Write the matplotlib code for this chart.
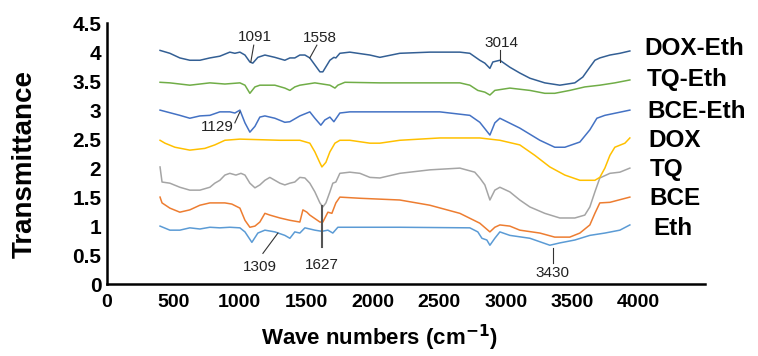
import matplotlib.pyplot as plt

plt.rcParams['font.family'] = ['Liberation Sans', 'DejaVu Sans']

# FTIR traces (wave number, transmittance)
eth_x = [400, 474, 549, 624, 700, 775, 850, 925, 1001, 1039, 1091, 1136, 1189, 1264, 1339, 1377, 1414, 1452,
         1490, 1565, 1618, 1663, 1700, 1738, 1828, 2204, 2731, 2791, 2822, 2859, 2882, 2919, 2957, 3032,
         3183, 3333, 3408, 3521, 3634, 3747, 3860, 3935]
eth_y = [1.00, 0.93, 0.93, 0.97, 0.95, 0.98, 0.97, 0.98, 0.97, 0.90, 0.72, 0.88, 0.93, 0.90, 0.84, 0.79, 0.90, 0.88,
         0.97, 0.93, 0.91, 0.93, 0.88, 0.98, 0.98, 0.98, 0.97, 0.90, 0.79, 0.76, 0.67, 0.79, 0.90, 0.84,
         0.79, 0.67, 0.71, 0.76, 0.84, 0.88, 0.93, 1.02]

bce_x = [400, 415, 474, 549, 624, 700, 775, 888, 940, 1001, 1039, 1076, 1114, 1151, 1189, 1226, 1302, 1377,
         1452, 1475, 1505, 1527, 1603, 1625, 1663, 1693, 1723, 1753, 1904, 2204, 2430, 2656, 2806, 2882,
         2919, 2957, 3032, 3107, 3258, 3370, 3483, 3559, 3634, 3672, 3709, 3785, 3935]
bce_y = [1.50, 1.40, 1.31, 1.24, 1.28, 1.36, 1.40, 1.40, 1.38, 1.31, 1.10, 0.98, 1.00, 1.07, 1.22, 1.19, 1.14, 1.10,
         1.07, 1.28, 1.24, 1.19, 1.07, 1.07, 1.24, 1.22, 1.40, 1.50, 1.48, 1.45, 1.36, 1.22, 1.05, 0.90,
         0.98, 1.02, 1.00, 0.93, 0.88, 0.81, 0.81, 0.88, 1.02, 1.22, 1.40, 1.41, 1.50]

tq_x = [400, 415, 474, 549, 624, 700, 775, 812, 850, 888, 925, 971, 1009, 1039, 1076, 1114, 1151, 1189, 1226,
        1264, 1302, 1339, 1377, 1414, 1452, 1490, 1527, 1565, 1603, 1625, 1648, 1678, 1700, 1723, 1753,
        1828, 1904, 1979, 2054, 2204, 2430, 2656, 2768, 2806, 2844, 2882, 2919, 2957, 3032, 3107, 3183,
        3295, 3408, 3521, 3596, 3634, 3672, 3709, 3785, 3860, 3935]
tq_y = [2.02, 1.76, 1.74, 1.67, 1.62, 1.62, 1.67, 1.74, 1.79, 1.88, 1.91, 1.88, 1.91, 1.88, 1.74, 1.66, 1.71, 1.79, 1.84,
        1.79, 1.74, 1.71, 1.74, 1.76, 1.84, 1.83, 1.74, 1.59, 1.40, 1.33, 1.40, 1.59, 1.74, 1.76, 1.91,
        1.93, 1.91, 1.84, 1.83, 1.91, 1.97, 2.00, 1.93, 1.83, 1.71, 1.45, 1.62, 1.67, 1.59, 1.45, 1.33,
        1.22, 1.14, 1.14, 1.19, 1.33, 1.59, 1.83, 1.91, 1.93, 2.00]

dox_x = [400, 437, 512, 624, 737, 812, 888, 1001, 1302, 1452, 1527, 1565, 1603, 1618, 1648, 1678, 1716, 1753,
         1828, 1979, 2054, 2204, 2505, 2806, 2957, 3107, 3220, 3333, 3446, 3559, 3672, 3709, 3747, 3785,
         3822, 3898, 3935]
dox_y = [2.48, 2.43, 2.36, 2.31, 2.34, 2.40, 2.48, 2.50, 2.48, 2.48, 2.43, 2.28, 2.09, 2.02, 2.10, 2.28, 2.43, 2.48,
         2.48, 2.43, 2.43, 2.48, 2.52, 2.52, 2.48, 2.40, 2.22, 2.02, 1.88, 1.79, 1.79, 1.84, 2.00, 2.22,
         2.36, 2.43, 2.52]

bce_eth_x = [400, 549, 624, 700, 775, 850, 925, 963, 1001, 1039, 1076, 1114, 1151, 1189, 1264, 1339, 1377,
             1452, 1527, 1565, 1610, 1640, 1678, 1708, 1753, 1828, 2505, 2731, 2806, 2882, 2919, 2957, 3107,
             3258, 3370, 3446, 3559, 3634, 3687, 3747, 3935]
bce_eth_y = [3.00, 2.91, 2.86, 2.90, 2.91, 2.97, 2.97, 2.95, 3.00, 2.78, 2.62, 2.72, 2.88, 2.90, 2.86, 2.79, 2.80,
             2.90, 2.97, 2.86, 2.74, 2.83, 2.88, 2.80, 2.95, 2.97, 2.97, 2.91, 2.79, 2.57, 2.78, 2.86, 2.69,
             2.48, 2.36, 2.36, 2.45, 2.66, 2.86, 2.91, 3.00]

tq_eth_x = [400, 474, 624, 775, 888, 1001, 1039, 1076, 1114, 1151, 1264, 1339, 1377, 1414, 1452, 1565, 1678,
            1716, 1738, 1791, 2054, 2656, 2731, 2791, 2844, 2882, 2919, 3032, 3183, 3295, 3370, 3483, 3596,
            3709, 3822, 3935]
tq_eth_y = [3.48, 3.47, 3.43, 3.47, 3.45, 3.47, 3.43, 3.29, 3.40, 3.43, 3.43, 3.38, 3.34, 3.40, 3.43, 3.47, 3.43,
            3.38, 3.43, 3.48, 3.47, 3.47, 3.43, 3.34, 3.31, 3.26, 3.34, 3.38, 3.34, 3.29, 3.29, 3.34, 3.40,
            3.43, 3.47, 3.52]

dox_eth_x = [400, 474, 549, 624, 700, 775, 850, 925, 963, 1001, 1039, 1076, 1098, 1136, 1189, 1264, 1339, 1377,
             1414, 1452, 1490, 1527, 1565, 1603, 1625, 1678, 1708, 1723, 1753, 1828, 1979, 2054, 2204, 2430,
             2656, 2731, 2806, 2844, 2882, 2904, 2957, 3032, 3107, 3183, 3295, 3408, 3521, 3581, 3634, 3672,
             3709, 3785, 3860, 3935]
dox_eth_y = [4.03, 3.98, 3.90, 3.86, 3.86, 3.90, 3.93, 4.00, 3.98, 4.00, 3.95, 3.83, 3.81, 3.91, 3.95, 3.91, 3.86, 3.90,
             3.90, 3.95, 3.95, 3.90, 3.78, 3.66, 3.66, 3.86, 3.91, 3.90, 3.98, 4.00, 3.95, 3.91, 3.98, 4.00,
             4.00, 3.98, 3.86, 3.81, 3.72, 3.83, 3.86, 3.74, 3.64, 3.55, 3.47, 3.43, 3.47, 3.57, 3.74, 3.86,
             3.90, 3.95, 3.98, 4.02]

names = ['Eth', 'BCE', 'TQ', 'DOX', 'BCE-Eth', 'TQ-Eth', 'DOX-Eth']
colors = ['#5b9bd5', '#ed7d31', '#a5a5a5', '#ffc000', '#4472c4', '#70ad47', '#335f94']
series = [(eth_x, eth_y), (bce_x, bce_y), (tq_x, tq_y), (dox_x, dox_y),
          (bce_eth_x, bce_eth_y), (tq_eth_x, tq_eth_y), (dox_eth_x, dox_eth_y)]
# where the name sits at the right end (x, y)
name_pos = [(4115, 0.95), (4085, 1.47), (4085, 1.97), (4078, 2.48), (4070, 2.98), (4063, 3.52), (4048, 4.07)]

fig = plt.figure(figsize=(7.58, 3.56), dpi=100)
ax = fig.add_axes([0.141, 0.202, 0.789, 0.733])

for (x, y), c in zip(series, colors):
    ax.plot(x, y, color=c, linewidth=1.1)

for n, (px, py) in zip(names, name_pos):
    ax.text(px, py, n, fontsize=17.5, fontweight='bold', va='center', ha='left', clip_on=False)

# peak labels
ann = dict(fontsize=11, color='#222222', ha='center', va='center')
lc = dict(color='#333333', linewidth=0.8)
ax.plot([1083, 1105], [3.83, 4.12], **lc)
ax.text(1114, 4.26, '1091', **ann)
ax.plot([1527, 1580], [3.90, 4.12], **lc)
ax.text(1603, 4.24, '1558', **ann)
ax.plot([2957, 2957], [3.83, 4.03], **lc)
ax.text(2972, 4.16, '3014', **ann)
ax.plot([963, 1001], [2.78, 2.97], **lc)
ax.text(828, 2.71, '1129', **ann)
ax.plot([1618, 1618], [1.34, 0.64], color='#555555', linewidth=1.5)
ax.text(1618, 0.33, '1627', **ann)
ax.plot([1287, 1174], [0.88, 0.53], **lc)
ax.text(1151, 0.29, '1309', **ann)
ax.plot([3356, 3356], [0.62, 0.36], **lc)
ax.text(3356, 0.19, '3430', **ann)

ax.set_xlim(0, 4500)
ax.set_ylim(0, 4.5)
ax.set_xticks([0, 500, 1000, 1500, 2000, 2500, 3000, 3500, 4000])
ax.set_yticks([0, 0.5, 1, 1.5, 2, 2.5, 3, 3.5, 4, 4.5])
ax.set_yticklabels(['0', '0.5', '1', '1.5', '2', '2.5', '3', '3.5', '4', '4.5'])
ax.tick_params(axis='x', length=0, pad=7, labelsize=14)
ax.tick_params(axis='y', length=0, pad=4, labelsize=15)
for lab in ax.get_xticklabels() + ax.get_yticklabels():
    lab.set_fontweight('bold')
for s in ['top', 'right']:
    ax.spines[s].set_visible(False)
for s in ['left', 'bottom']:
    ax.spines[s].set_linewidth(1.8)

fig.text(0.033, 0.54, 'Transmittance', rotation=90, fontsize=20, fontweight='bold', ha='center', va='center')
fig.text(0.50, 0.052, 'Wave numbers (cm$^{\\mathbf{-1}}$)', fontsize=16, fontweight='bold', ha='center', va='center')

plt.savefig('out.png', dpi=100)
